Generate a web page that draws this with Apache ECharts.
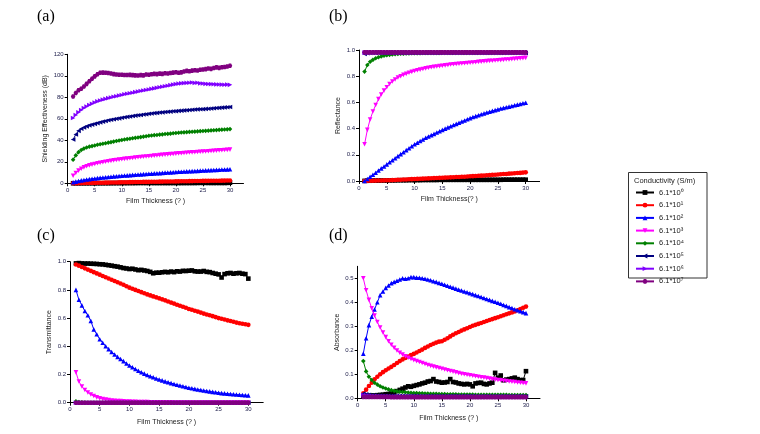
<!DOCTYPE html>
<html><head><meta charset="utf-8">
<script src="https://cdn.jsdelivr.net/npm/echarts@6/dist/echarts.min.js"></script>
<style>html,body{margin:0;padding:0;background:#fff}#c{width:760px;height:434px}</style>
</head><body><div id="c"></div><script>
// ---------- data ----------
const thickness = [
1,1.5,2,2.5,3,3.5,4,4.5,5,5.5,
6,6.5,7,7.5,8,8.5,9,9.5,10,10.5,
11,11.5,12,12.5,13,13.5,14,14.5,15,15.5,
16,16.5,17,17.5,18,18.5,19,19.5,20,20.5,
21,21.5,22,22.5,23,23.5,24,24.5,25,25.5,
26,26.5,27,27.5,28,28.5,29,29.5,30];

const conductivity = ['6.1*10⁰','6.1*10¹','6.1*10²','6.1*10³','6.1*10⁴','6.1*10⁵','6.1*10⁶','6.1*10⁷'];
const xTickLabels = [0,5,10,15,20,25,30];
const seTickLabels = [0,20,40,60,80,100,120];
const rtTickLabels = [0,0.2,0.4,0.6,0.8,1.0];
const absTickLabels = [0,0.1,0.2,0.3,0.4,0.5];

// (a) Shielding effectiveness (dB)
const seBlack = [0.04,0.05,0.05,0.05,0.06,0.06,0.07,0.07,0.07,0.08,
0.09,0.10,0.12,0.13,0.14,0.17,0.19,0.20,0.22,0.22,
0.24,0.25,0.25,0.28,0.32,0.35,0.33,0.32,0.31,0.31,
0.30,0.29,0.29,0.30,0.29,0.28,0.29,0.30,0.29,0.27,
0.28,0.30,0.31,0.31,0.32,0.33,0.35,0.45,0.38,0.42,
0.36,0.35,0.34,0.35,0.36,0.34,0.35,0.38,0.55];
const seRed = [0.09,0.12,0.15,0.2,0.25,0.3,0.34,0.38,0.43,0.46,
0.5,0.55,0.6,0.65,0.7,0.75,0.8,0.86,0.92,0.96,
1.01,1.05,1.1,1.15,1.19,1.24,1.28,1.31,1.34,1.38,
1.43,1.47,1.52,1.56,1.61,1.65,1.69,1.73,1.77,1.82,
1.87,1.92,1.97,2.01,2.06,2.1,2.15,2.18,2.22,2.25,
2.29,2.33,2.37,2.4,2.44,2.48,2.52,2.56,2.6];
const seBlue = [1.0,1.6,2.2,2.7,3.1,3.5,3.9,4.2,4.5,4.8,
5.1,5.4,5.6,5.9,6.1,6.4,6.6,6.8,7.0,7.2,
7.4,7.6,7.8,8.0,8.2,8.3,8.5,8.7,8.9,9.0,
9.2,9.4,9.5,9.7,9.9,10.0,10.2,10.3,10.5,10.7,
10.8,11.0,11.1,11.2,11.3,11.5,11.6,11.8,11.9,12.0,
12.1,12.3,12.4,12.5,12.6,12.8,12.9,13.0,13.1];
const seMagenta = [7.0,9.6,11.8,13.5,14.8,15.8,16.7,17.4,18.0,18.6,
19.1,19.6,20.1,20.5,20.9,21.3,21.7,22.0,22.4,22.7,
23.0,23.3,23.6,23.9,24.2,24.4,24.7,24.9,25.2,25.4,
25.7,25.9,26.2,26.4,26.7,26.9,27.1,27.3,27.6,27.8,
28.0,28.2,28.4,28.6,28.8,28.9,29.1,29.3,29.5,29.6,
29.8,30.0,30.2,30.4,30.6,30.8,31.0,31.1,31.3];
const seGreen = [22.0,26.0,29.0,31.0,32.3,33.3,34.1,34.6,35.2,35.8,
36.3,36.8,37.3,37.8,38.3,38.8,39.3,39.8,40.3,40.7,
41.1,41.5,41.9,42.3,42.6,43.0,43.4,43.8,44.2,44.5,
44.8,45.0,45.3,45.5,45.8,46.0,46.2,46.5,46.8,47.0,
47.2,47.4,47.6,47.8,48.0,48.1,48.3,48.5,48.6,48.8,
49.0,49.2,49.4,49.5,49.7,49.9,50.0,50.2,50.4];
const seNavy = [40.7,45.5,48.8,50.8,52.0,53.0,53.9,54.6,55.3,56.0,
56.7,57.4,58.0,58.6,59.1,59.6,60.0,60.4,61.0,61.4,
61.8,62.2,62.6,63.0,63.3,63.6,64.0,64.3,64.7,65.0,
65.3,65.5,65.8,66.0,66.3,66.5,66.7,67.0,67.1,67.4,
67.6,67.8,68.0,68.2,68.4,68.6,68.8,68.9,69.0,69.2,
69.4,69.6,69.8,70.0,70.2,70.4,70.6,70.8,71.0];
const seViolet = [60.8,63.5,66.0,68.2,70.0,71.5,72.8,74.0,75.2,76.2,
77.0,77.8,78.5,79.2,79.8,80.5,81.0,81.6,82.2,82.8,
83.3,83.8,84.3,84.8,85.3,85.8,86.3,86.8,87.3,87.8,
88.3,88.8,89.3,89.8,90.3,90.8,91.3,91.8,92.3,92.7,
93.0,93.2,93.4,93.6,93.8,93.4,93.6,93.0,92.8,92.5,
92.4,92.3,92.2,92.0,91.9,91.8,91.7,91.8,91.6];
const sePurple = [80.8,84.0,86.5,88.0,90.0,92.5,95.0,97.3,99.5,101.5,
102.8,103.0,102.8,102.6,102.2,101.6,101.2,101.0,101.0,100.8,
100.7,100.9,100.6,100.4,100.3,100.6,100.4,101.2,101.0,101.4,
101.8,101.6,102.0,101.8,102.4,102.2,102.6,103.0,103.3,102.8,
103.2,104.0,104.6,104.2,104.8,105.2,105.0,105.6,105.8,106.2,
106.8,106.4,107.2,107.8,107.4,108.0,108.2,108.6,109.4];

// (b) Reflectance
const rBlack = [0.001,0.002,0.002,0.003,0.003,0.003,0.004,0.004,0.004,0.005,
0.005,0.005,0.006,0.006,0.006,0.006,0.007,0.007,0.007,0.007,
0.007,0.008,0.008,0.008,0.008,0.008,0.008,0.009,0.009,0.009,
0.009,0.009,0.009,0.009,0.009,0.009,0.009,0.009,0.009,0.009,
0.009,0.009,0.009,0.009,0.009,0.009,0.009,0.009,0.009,0.009,
0.010,0.010,0.010,0.010,0.010,0.010,0.010,0.010,0.010];
const rRed = [0.000,0.001,0.002,0.002,0.003,0.004,0.004,0.005,0.006,0.006,
0.007,0.008,0.009,0.010,0.011,0.012,0.013,0.014,0.015,0.016,
0.017,0.018,0.019,0.020,0.021,0.022,0.023,0.024,0.025,0.026,
0.027,0.028,0.029,0.030,0.031,0.032,0.033,0.034,0.036,0.037,
0.038,0.040,0.041,0.042,0.044,0.045,0.047,0.048,0.050,0.051,
0.053,0.054,0.056,0.057,0.059,0.061,0.062,0.064,0.066];
const rBlue = [0.000,0.015,0.033,0.048,0.063,0.080,0.096,0.111,0.127,0.143,
0.158,0.174,0.190,0.205,0.220,0.236,0.250,0.265,0.280,0.292,
0.305,0.317,0.330,0.340,0.350,0.360,0.370,0.380,0.390,0.400,
0.409,0.418,0.427,0.436,0.445,0.454,0.462,0.471,0.480,0.488,
0.495,0.502,0.509,0.516,0.523,0.529,0.535,0.541,0.547,0.553,
0.558,0.563,0.568,0.573,0.578,0.583,0.588,0.593,0.597];
const rMagenta = [0.28,0.39,0.47,0.53,0.58,0.625,0.66,0.69,0.716,0.74,
0.76,0.775,0.79,0.80,0.81,0.818,0.826,0.833,0.84,0.845,
0.85,0.855,0.86,0.864,0.868,0.871,0.874,0.877,0.88,0.883,
0.886,0.889,0.891,0.893,0.895,0.897,0.899,0.901,0.903,0.905,
0.907,0.909,0.911,0.913,0.915,0.917,0.918,0.92,0.922,0.923,
0.925,0.927,0.928,0.93,0.932,0.934,0.936,0.938,0.94];
const rGreen = [0.835,0.885,0.91,0.925,0.937,0.945,0.951,0.956,0.96,0.963,
0.966,0.968,0.97,0.971,0.972,0.973,0.974,0.975,0.975,0.976,
0.976,0.977,0.977,0.977,0.978,0.978,0.978,0.978,0.979,0.979,
0.979,0.979,0.979,0.979,0.979,0.979,0.979,0.979,0.979,0.979,
0.98,0.98,0.98,0.98,0.98,0.98,0.98,0.98,0.98,0.98,
0.98,0.98,0.98,0.98,0.98,0.98,0.98,0.98,0.98];
const rNavy = [0.97,0.975,0.977,0.978,0.978,0.978,0.978,0.978,0.978,0.978,
0.978,0.978,0.978,0.978,0.978,0.978,0.978,0.978,0.978,0.978,
0.978,0.978,0.978,0.978,0.978,0.978,0.978,0.978,0.978,0.978,
0.978,0.978,0.978,0.978,0.978,0.978,0.978,0.978,0.978,0.978,
0.978,0.978,0.978,0.978,0.978,0.978,0.978,0.978,0.978,0.978,
0.978,0.978,0.978,0.978,0.978,0.978,0.978,0.978,0.978];
const rViolet = [0.98,0.98,0.98,0.98,0.98,0.98,0.98,0.98,0.98,0.98,
0.98,0.98,0.98,0.98,0.98,0.98,0.98,0.98,0.98,0.98,
0.98,0.98,0.98,0.98,0.98,0.98,0.98,0.98,0.98,0.98,
0.98,0.98,0.98,0.98,0.98,0.98,0.98,0.98,0.98,0.98,
0.98,0.98,0.98,0.98,0.98,0.98,0.98,0.98,0.98,0.98,
0.98,0.98,0.98,0.98,0.98,0.98,0.98,0.98,0.98];
const rPurple = [0.982,0.982,0.982,0.982,0.982,0.982,0.982,0.982,0.982,0.982,
0.982,0.982,0.982,0.982,0.982,0.982,0.982,0.982,0.982,0.982,
0.982,0.982,0.982,0.982,0.982,0.982,0.982,0.982,0.982,0.982,
0.982,0.982,0.982,0.982,0.982,0.982,0.982,0.982,0.982,0.982,
0.982,0.982,0.982,0.982,0.982,0.982,0.982,0.982,0.982,0.982,
0.982,0.982,0.982,0.982,0.982,0.982,0.982,0.982,0.982];

// (c) Transmittance
const tBlack = [0.988,0.99,0.988,0.987,0.987,0.986,0.985,0.984,0.982,0.981,
0.978,0.975,0.972,0.968,0.965,0.96,0.955,0.952,0.948,0.95,
0.945,0.94,0.942,0.938,0.934,0.928,0.918,0.922,0.922,0.925,
0.928,0.925,0.93,0.926,0.932,0.93,0.935,0.934,0.936,0.938,
0.932,0.93,0.93,0.934,0.928,0.926,0.92,0.915,0.91,0.888,
0.912,0.918,0.92,0.915,0.918,0.92,0.915,0.912,0.88];
const tRed = [0.98,0.972,0.962,0.953,0.944,0.935,0.926,0.917,0.908,0.899,
0.89,0.881,0.872,0.863,0.854,0.845,0.836,0.826,0.816,0.808,
0.8,0.792,0.784,0.776,0.768,0.761,0.754,0.747,0.74,0.733,
0.726,0.718,0.71,0.703,0.695,0.688,0.68,0.673,0.665,0.659,
0.652,0.646,0.639,0.632,0.626,0.62,0.614,0.607,0.6,0.595,
0.59,0.584,0.579,0.574,0.568,0.564,0.56,0.556,0.552];
const tBlue = [0.8,0.73,0.69,0.65,0.62,0.58,0.52,0.485,0.45,0.425,
0.4,0.38,0.36,0.342,0.325,0.31,0.295,0.278,0.264,0.251,
0.239,0.227,0.216,0.206,0.196,0.188,0.18,0.172,0.165,0.158,
0.151,0.145,0.139,0.133,0.127,0.122,0.117,0.111,0.106,0.102,
0.098,0.094,0.09,0.087,0.083,0.08,0.077,0.074,0.071,0.068,
0.066,0.064,0.062,0.06,0.058,0.056,0.055,0.053,0.052];
const tMagenta = [0.215,0.15,0.115,0.09,0.072,0.058,0.047,0.038,0.031,0.026,
0.022,0.019,0.016,0.014,0.012,0.011,0.01,0.009,0.008,0.007,
0.006,0.005,0.005,0.004,0.004,0.003,0.003,0.003,0.002,0.002,
0.002,0.002,0.002,0.001,0.001,0.001,0.001,0.001,0.001,0.001,
0.001,0.001,0.001,0.001,0.001,0.001,0.001,0.001,0.001,0.001,
0.001,0.001,0.001,0.001,0.001,0.001,0.001,0.001,0.001];
const tGreen = [0.01,0.005,0.002,0.001,0,0,0,0,0,0,
0,0,0,0,0,0,0,0,0,0,
0,0,0,0,0,0,0,0,0,0,
0,0,0,0,0,0,0,0,0,0,
0,0,0,0,0,0,0,0,0,0,
0,0,0,0,0,0,0,0,0];
const tNavy = [0,0,0,0,0,0,0,0,0,0,
0,0,0,0,0,0,0,0,0,0,
0,0,0,0,0,0,0,0,0,0,
0,0,0,0,0,0,0,0,0,0,
0,0,0,0,0,0,0,0,0,0,
0,0,0,0,0,0,0,0,0];
const tViolet = [0,0,0,0,0,0,0,0,0,0,
0,0,0,0,0,0,0,0,0,0,
0,0,0,0,0,0,0,0,0,0,
0,0,0,0,0,0,0,0,0,0,
0,0,0,0,0,0,0,0,0,0,
0,0,0,0,0,0,0,0,0];
const tPurple = [0,0,0,0,0,0,0,0,0,0,
0,0,0,0,0,0,0,0,0,0,
0,0,0,0,0,0,0,0,0,0,
0,0,0,0,0,0,0,0,0,0,
0,0,0,0,0,0,0,0,0,0,
0,0,0,0,0,0,0,0,0];

// (d) Absorbance
const aBlack = [0.010,0.011,0.011,0.012,0.012,0.013,0.014,0.015,0.017,0.018,
0.020,0.024,0.030,0.035,0.040,0.045,0.050,0.048,0.052,0.055,
0.058,0.062,0.065,0.070,0.072,0.080,0.070,0.068,0.065,0.066,
0.068,0.080,0.068,0.066,0.062,0.060,0.058,0.060,0.058,0.050,
0.062,0.064,0.065,0.060,0.058,0.062,0.065,0.106,0.086,0.095,
0.075,0.078,0.080,0.083,0.086,0.080,0.076,0.076,0.113];
const aRed = [0.021,0.036,0.051,0.065,0.079,0.09,0.1,0.109,0.117,0.124,
0.131,0.139,0.147,0.155,0.162,0.168,0.174,0.18,0.185,0.191,
0.197,0.203,0.21,0.216,0.222,0.227,0.232,0.236,0.238,0.244,
0.25,0.258,0.265,0.271,0.276,0.282,0.287,0.292,0.297,0.302,
0.306,0.31,0.314,0.318,0.322,0.326,0.33,0.334,0.338,0.342,
0.346,0.35,0.354,0.358,0.362,0.367,0.372,0.377,0.382];
const aBlue = [0.186,0.25,0.305,0.34,0.37,0.40,0.43,0.445,0.46,0.47,
0.48,0.485,0.49,0.495,0.5,0.498,0.5,0.505,0.505,0.503,
0.502,0.5,0.498,0.495,0.492,0.488,0.485,0.481,0.477,0.473,
0.469,0.465,0.461,0.457,0.453,0.449,0.445,0.442,0.438,0.434,
0.43,0.426,0.422,0.418,0.414,0.41,0.406,0.402,0.398,0.394,
0.389,0.385,0.38,0.376,0.371,0.367,0.363,0.359,0.355];
const aMagenta = [0.5,0.45,0.41,0.375,0.345,0.318,0.295,0.274,0.255,0.238,
0.223,0.21,0.199,0.19,0.182,0.175,0.169,0.164,0.159,0.155,
0.151,0.147,0.143,0.139,0.135,0.132,0.129,0.126,0.123,0.12,
0.117,0.114,0.111,0.108,0.105,0.102,0.1,0.098,0.096,0.094,
0.092,0.09,0.088,0.086,0.084,0.082,0.08,0.078,0.076,0.075,
0.073,0.072,0.07,0.069,0.068,0.066,0.065,0.064,0.062];
const aGreen = [0.155,0.112,0.09,0.076,0.065,0.057,0.05,0.045,0.041,0.037,
0.034,0.031,0.029,0.027,0.026,0.025,0.024,0.023,0.022,0.022,
0.021,0.021,0.02,0.02,0.019,0.019,0.019,0.018,0.018,0.018,
0.017,0.017,0.017,0.017,0.016,0.016,0.016,0.016,0.016,0.016,
0.015,0.015,0.015,0.015,0.015,0.015,0.015,0.015,0.015,0.015,
0.015,0.015,0.014,0.014,0.014,0.014,0.014,0.014,0.014];
const aNavy = [0.02,0.017,0.015,0.013,0.012,0.011,0.011,0.01,0.01,0.01,
0.01,0.01,0.01,0.01,0.01,0.01,0.01,0.01,0.01,0.01,
0.009,0.009,0.009,0.009,0.009,0.009,0.009,0.009,0.009,0.009,
0.009,0.009,0.009,0.009,0.009,0.009,0.009,0.009,0.009,0.009,
0.008,0.008,0.008,0.008,0.008,0.008,0.008,0.008,0.008,0.008,
0.008,0.008,0.008,0.008,0.008,0.008,0.008,0.008,0.008];
const aViolet = [0.014,0.012,0.011,0.01,0.009,0.009,0.008,0.008,0.008,0.008,
0.007,0.007,0.007,0.007,0.007,0.007,0.007,0.007,0.007,0.007,
0.007,0.007,0.007,0.007,0.007,0.007,0.007,0.007,0.007,0.007,
0.007,0.007,0.007,0.007,0.007,0.007,0.007,0.007,0.007,0.007,
0.007,0.007,0.007,0.007,0.007,0.007,0.007,0.007,0.007,0.007,
0.007,0.007,0.007,0.007,0.007,0.007,0.007,0.007,0.007];
const aPurple = [0.006,0.006,0.006,0.006,0.006,0.006,0.006,0.006,0.006,0.006,
0.005,0.005,0.005,0.005,0.005,0.005,0.005,0.005,0.005,0.005,
0.005,0.005,0.005,0.005,0.005,0.005,0.005,0.005,0.005,0.005,
0.005,0.005,0.005,0.005,0.005,0.005,0.005,0.005,0.005,0.005,
0.005,0.005,0.005,0.005,0.005,0.005,0.005,0.005,0.005,0.005,
0.005,0.005,0.005,0.005,0.005,0.005,0.005,0.005,0.005];

// ---------- styling ----------
const colors = ['#000000','#ff0000','#0000ff','#ff00ff','#008000','#000080','#8000ff','#800080'];
const symbols = ['rect','circle','triangle','path://M0,0L10,0L5,10Z','diamond',
  'path://M0,5L10,0L10,10Z','path://M0,0L10,5L0,10Z','path://M2.5,0L7.5,0L10,5L7.5,10L2.5,10L0,5Z'];

const panels = [
  {data:[seBlack,seRed,seBlue,seMagenta,seGreen,seNavy,seViolet,sePurple]},
  {data:[rBlack,rRed,rBlue,rMagenta,rGreen,rNavy,rViolet,rPurple]},
  {data:[tBlack,tRed,tBlue,tMagenta,tGreen,tNavy,tViolet,tPurple]},
  {data:[aBlack,aRed,aBlue,aMagenta,aGreen,aNavy,aViolet,aPurple]}
];

const grids = [
  {left:67.7, top:54.3, width:175.8, height:129},
  {left:359, top:50, width:180.6, height:131},
  {left:70, top:261.7, width:193.2, height:141},
  {left:357.7, top:266.3, width:182.3, height:132}
];

const tickCol = '#23234f';
function xAxis(i, name, gap){
  return {type:'value', gridIndex:i, min:0, max:32.5,
    name:name, nameLocation:'middle', nameGap:gap,
    nameTextStyle:{fontSize:7, color:'#222', fontFamily:'Liberation Sans'},
    axisLine:{show:true, onZero:false, lineStyle:{color:'#000', width:1}},
    axisTick:{show:true, customValues:xTickLabels, length:3, lineStyle:{color:'#000', width:1}},
    axisLabel:{customValues:xTickLabels, fontSize:6, color:tickCol, margin:4, fontFamily:'Liberation Sans'},
    splitLine:{show:false}};
}
function yAxis(i, name, gap, max, ticks, dec){
  return {type:'value', gridIndex:i, min:0, max:max,
    name:name, nameLocation:'middle', nameGap:gap,
    nameTextStyle:{fontSize:7, color:'#222', fontFamily:'Liberation Sans'},
    axisLine:{show:true, onZero:false, lineStyle:{color:'#000', width:1}},
    axisTick:{show:true, customValues:ticks, length:3, lineStyle:{color:'#000', width:1}},
    axisLabel:{customValues:ticks, fontSize:6, color:tickCol, margin:4, fontFamily:'Liberation Sans',
      formatter: v => v.toFixed(dec)},
    splitLine:{show:false}};
}

const series = [];
panels.forEach((p, gi) => {
  p.data.forEach((vals, k) => {
    series.push({
      type:'line', name:conductivity[k], xAxisIndex:gi, yAxisIndex:gi,
      data: thickness.map((x, j) => [x, vals[j]]),
      symbol:symbols[k], symbolSize:4.6, showSymbol:true,
      itemStyle:{color:colors[k]}, lineStyle:{color:colors[k], width:1},
      emphasis:{disabled:true}, animation:false, z:2+k
    });
  });
});

const labelStyle = {fontFamily:'Liberation Serif', fontSize:16, fontWeight:'normal', color:'#000'};

const option = {
  backgroundColor:'#fff',
  animation:false,
  title:[
    {text:'(a)', left:37, top:9, padding:0, textStyle:labelStyle},
    {text:'(b)', left:329, top:9, padding:0, textStyle:labelStyle},
    {text:'(c)', left:37, top:228, padding:0, textStyle:labelStyle},
    {text:'(d)', left:329, top:228, padding:0, textStyle:labelStyle}
  ],
  grid: grids,
  xAxis:[xAxis(0,'Film Thickness (? )',14), xAxis(1,'Film Thickness(? )',15),
         xAxis(2,'Film Thickness (? )',16), xAxis(3,'Film Thickness (? )',16)],
  yAxis:[yAxis(0,'Shielding Effectiveness (dB)',19,120,seTickLabels,0),
         yAxis(1,'Reflectance',17,1.0,rtTickLabels,1),
         yAxis(2,'Transmittance',17.5,1.0,rtTickLabels,1),
         yAxis(3,'Absorbance',17.5,0.55,absTickLabels,1)],
  legend:{orient:'vertical', left:635, top:188.5, itemWidth:18, itemHeight:6, itemGap:4.7,
    padding:0, textStyle:{fontSize:7.5, color:'#222', fontFamily:'Liberation Sans'},
    data:conductivity, selectedMode:false},
  graphic:[
    {type:'rect', shape:{x:628.5, y:172.5, width:78.5, height:105.5},
     style:{fill:'none', stroke:'#333', lineWidth:1}, silent:true},
    {type:'text', x:634, y:177, style:{text:'Conductivity (S/m)', fontSize:7.5, fill:'#222', fontFamily:'Liberation Sans'}, silent:true}
  ],
  series: series
};

const chart = echarts.init(document.getElementById('c'), null, {renderer:'canvas'});
chart.setOption(option);
</script></body></html>
